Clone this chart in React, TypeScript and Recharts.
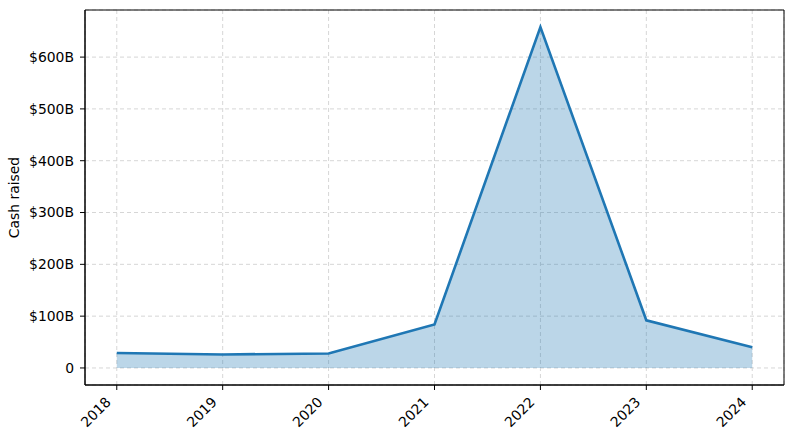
import React from "react"
import { ComposedChart, Area, Line, XAxis, YAxis, CartesianGrid, ReferenceArea } from "recharts"

const years = [2018, 2019, 2020, 2021, 2022, 2023, 2024]
const cashRaised = [29, 26, 28, 84, 658, 92, 40] // $B
const yTicks = [0, 100, 200, 300, 400, 500, 600]

const data = years.map((year, i) => ({ year, cash: cashRaised[i] }))

const X_DOMAIN: [number, number] = [2017.7, 2024.3]
const Y_DOMAIN: [number, number] = [-32.9, 690.9]

const FONT = "DejaVu Sans, sans-serif"
const FS = 13.9

function YearTick(props: any) {
  const { x, y, payload } = props
  const ax = x - 5
  const ay = y + 11
  return (
    <text
      x={ax}
      y={ay}
      textAnchor="end"
      fontSize={FS}
      fontFamily={FONT}
      fill="#000"
      transform={`rotate(-45, ${ax}, ${ay})`}
    >
      {payload.value}
    </text>
  )
}

export default function App() {
  return (
    <div style={{ position: "absolute", left: 0, top: 0, width: 790, height: 440, background: "#fff" }}>
      <ComposedChart width={790} height={440} data={data} margin={{ top: 10, right: 6, left: 0, bottom: 0 }}>
        <CartesianGrid stroke="#d6d6d6" strokeDasharray="4 3" />
        <XAxis
          dataKey="year"
          type="number"
          domain={X_DOMAIN}
          ticks={years}
          height={55}
          tick={<YearTick />}
          tickSize={5}
          axisLine={{ stroke: "#000" }}
          tickLine={{ stroke: "#000" }}
          interval={0}
          allowDataOverflow
        />
        <YAxis
          type="number"
          domain={Y_DOMAIN}
          ticks={yTicks}
          width={85}
          tickSize={5}
          tickMargin={6}
          tickFormatter={(v: number) => (v === 0 ? "0" : `$${v}B`)}
          tick={{ fontSize: FS, fontFamily: FONT, fill: "#000" }}
          axisLine={{ stroke: "#000" }}
          tickLine={{ stroke: "#000" }}
          allowDataOverflow
          label={{
            value: "Cash raised",
            angle: -90,
            position: "insideLeft",
            offset: 14,
            style: { fontSize: FS, fontFamily: FONT, fill: "#000", textAnchor: "middle" },
          }}
        />
        <Area
          type="linear"
          dataKey="cash"
          baseValue={0}
          stroke="none"
          fill="#1f77b4"
          fillOpacity={0.3}
          isAnimationActive={false}
        />
        <Line
          type="linear"
          dataKey="cash"
          stroke="#1f77b4"
          strokeWidth={2.6}
          dot={false}
          isAnimationActive={false}
        />
        <ReferenceArea
          x1={X_DOMAIN[0]}
          x2={X_DOMAIN[1]}
          y1={Y_DOMAIN[0]}
          y2={Y_DOMAIN[1]}
          fill="none"
          stroke="#000"
          strokeWidth={1}
        />
      </ComposedChart>
    </div>
  )
}
